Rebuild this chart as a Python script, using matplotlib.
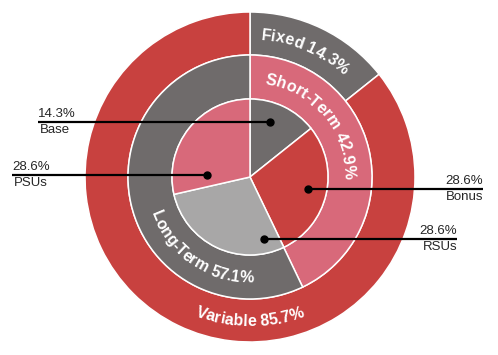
import numpy as np
import matplotlib
matplotlib.use("Agg")
import matplotlib.pyplot as plt
from matplotlib.font_manager import FontProperties

# data
outer_labels = ["Fixed", "Variable"]
outer_values = [14.3, 85.7]
middle_labels = ["Short-Term", "Long-Term"]
middle_values = [42.9, 57.1]
inner_labels = ["Base", "Bonus", "RSUs", "PSUs"]
inner_values = [14.3, 28.6, 28.6, 28.6]

RED = "#C8413F"
GRAY = "#6F6B6B"
PINK = "#D8697A"
LGRAY = "#A8A7A7"

outer_colors = [GRAY, RED]
middle_colors = [PINK, GRAY]
inner_colors = [GRAY, RED, LGRAY, PINK]

fig = plt.figure(figsize=(4.98, 3.55), dpi=100)
ax = fig.add_axes([0, 0, 1, 1])

R_OUT, R_MID, R_IN = 165, 122, 78
wp = dict(edgecolor="white", linewidth=1.1)

ax.pie(outer_values, radius=R_OUT, colors=outer_colors, startangle=90,
       counterclock=False, wedgeprops=dict(width=R_OUT - R_MID, **wp))
ax.pie(middle_values, radius=R_MID, colors=middle_colors, startangle=90,
       counterclock=False, wedgeprops=dict(width=R_MID - R_IN, **wp))
ax.pie(inner_values, radius=R_IN, colors=inner_colors, startangle=90,
       counterclock=False, wedgeprops=wp)

ax.set_xlim(-250, 248)
ax.set_ylim(-178, 177)
ax.set_aspect("equal")
ax.axis("off")

renderer = fig.canvas.get_renderer()
FS = 11.5
fp = FontProperties(family="Liberation Sans", weight="bold", size=FS)
cap = 0.716 * FS * 100 / 72


def width(s):
    w, h, d = renderer.get_text_width_height_descent(s, fp, ismath=False)
    return w


def curved_text(text, r_mid, center_deg, top):
    base = width("aa")
    adv = [width("a" + c + "a") - base for c in text]
    total = sum(adv)
    r_b = r_mid - cap / 2 if top else r_mid + cap / 2
    pos = 0
    for c, a in zip(text, adv):
        s = pos + a / 2 - total / 2
        pos += a
        if c == " ":
            continue
        dth = np.degrees(s / r_b)
        if top:
            ang = center_deg - dth
            rot = ang - 90
        else:
            ang = center_deg + dth
            rot = ang + 90
        x = r_b * np.cos(np.radians(ang))
        y = r_b * np.sin(np.radians(ang))
        ax.text(x, y, c, fontproperties=fp, color="white", rotation=rot,
                rotation_mode="anchor", ha="center", va="baseline")


curved_text(f"{outer_labels[0]} {outer_values[0]}%", 143.5, 66.5, True)
curved_text(f"{outer_labels[1]} {outer_values[1]}%", 143.5, 270, False)
curved_text(f"{middle_labels[0]} {middle_values[0]}%", 100, 40, True)
curved_text(f"{middle_labels[1]} {middle_values[1]}%", 100, 236, False)

# callouts: anchor (radius, angle) in inner pie, line end x
anchors = {"Base": (59, 70), "Bonus": (59, -12), "RSUs": (64, -77), "PSUs": (43, 177)}
line_end = {"Base": -212, "Bonus": 233, "RSUs": 207, "PSUs": -238}

lfp = dict(family="Liberation Sans", size=9.5, color="#262626")
for lab, val in zip(inner_labels, inner_values):
    r, a = anchors[lab]
    x0 = r * np.cos(np.radians(a))
    y0 = r * np.sin(np.radians(a))
    x1 = line_end[lab]
    ax.plot([x0, x1], [y0, y0], color="black", lw=1.6, solid_capstyle="butt")
    ax.plot(x0, y0, "o", color="black", ms=5)
    ha = "left" if x1 < 0 else "right"
    ax.text(x1, y0 + 2, f"{val}%", ha=ha, va="bottom", **lfp)
    ax.text(x1 + (2 if x1 < 0 else 0), y0 - 2, lab, ha=ha, va="top", **lfp)

fig.savefig("out.png", dpi=100)
